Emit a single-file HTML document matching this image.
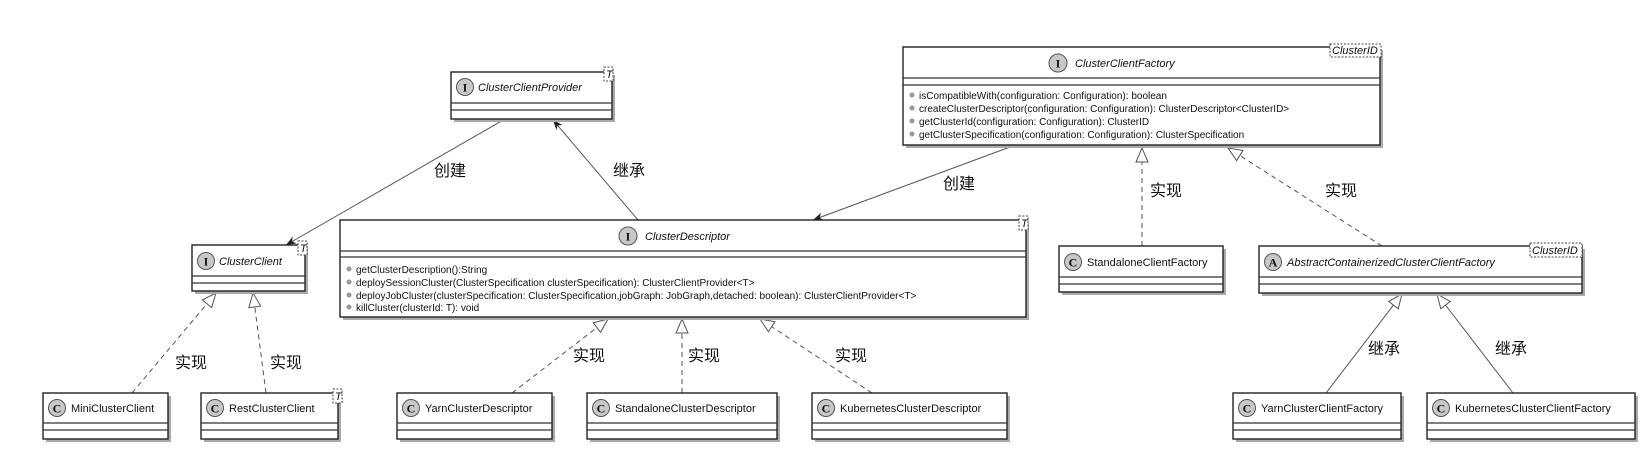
<!DOCTYPE html>
<html><head><meta charset="utf-8"><style>
html,body{margin:0;padding:0;background:#fff;}
svg{display:block;}
text{font-family:"Liberation Sans","Noto Sans CJK SC",sans-serif;}
.n{font-size:11px;fill:#111;}
.i{font-style:italic;}
.m{font-size:10px;fill:#111;}
.cn{font-size:16px;fill:#111;}
.box{fill:#fff;stroke:#222;stroke-width:1.4;}
.sh{fill:#aaa;}
.sep{stroke:#333;stroke-width:1.2;}
.ln{stroke:#555;stroke-width:1;fill:none;}
.dash{stroke-dasharray:5,4;}
.ic{fill:#c8c8c8;stroke:#555;stroke-width:1;}
.il{font-size:12px;font-weight:bold;fill:#111;font-family:"Liberation Serif",serif;}
.tag{fill:#fff;stroke:#444;stroke-width:1;stroke-dasharray:2,1.5;}
.dot{fill:#999;}
</style></head><body>
<svg width="1651" height="468" viewBox="0 0 1651 468" xmlns="http://www.w3.org/2000/svg">
<defs>
<marker id="tri" markerUnits="userSpaceOnUse" markerWidth="18" markerHeight="16" refX="15" refY="7" orient="auto">
<path d="M1,1 L15,7 L1,13 z" fill="#fff" stroke="#555" stroke-width="1"/></marker>
<marker id="arr" markerUnits="userSpaceOnUse" markerWidth="12" markerHeight="10" refX="10" refY="4" orient="auto">
<path d="M0,0 L10,4 L0,8 L3,4 z" fill="#222"/></marker>
</defs>

<!-- connectors -->
<line class="ln" x1="505" y1="119" x2="286" y2="245" marker-end="url(#arr)"/>
<line class="ln" x1="638" y1="220" x2="553" y2="120" marker-end="url(#arr)"/>
<line class="ln" x1="1010" y1="147" x2="813" y2="220" marker-end="url(#arr)"/>
<line class="ln dash" x1="1142" y1="246" x2="1142" y2="148" marker-end="url(#tri)"/>
<line class="ln dash" x1="1382" y1="246" x2="1228" y2="148" marker-end="url(#tri)"/>
<line class="ln" x1="1326" y1="393" x2="1402" y2="294" marker-end="url(#tri)"/>
<line class="ln" x1="1513" y1="393" x2="1437" y2="294" marker-end="url(#tri)"/>
<line class="ln dash" x1="132" y1="393" x2="216" y2="293" marker-end="url(#tri)"/>
<line class="ln dash" x1="266" y1="393" x2="253" y2="293" marker-end="url(#tri)"/>
<line class="ln dash" x1="512" y1="393" x2="608" y2="319" marker-end="url(#tri)"/>
<line class="ln dash" x1="682" y1="393" x2="682" y2="319" marker-end="url(#tri)"/>
<line class="ln dash" x1="872" y1="393" x2="760" y2="319" marker-end="url(#tri)"/>

<!-- labels -->
<text class="cn" x="434" y="176">创建</text>
<text class="cn" x="613" y="176">继承</text>
<text class="cn" x="943" y="189">创建</text>
<text class="cn" x="1150" y="196">实现</text>
<text class="cn" x="1325" y="196">实现</text>
<text class="cn" x="1368" y="354">继承</text>
<text class="cn" x="1495" y="354">继承</text>
<text class="cn" x="175" y="368">实现</text>
<text class="cn" x="270" y="368">实现</text>
<text class="cn" x="573" y="361">实现</text>
<text class="cn" x="688" y="361">实现</text>
<text class="cn" x="835" y="361">实现</text>

<!-- ClusterClientProvider -->
<rect class="sh" x="454" y="75" width="161" height="47"/>
<rect class="box" x="451" y="72" width="161" height="47"/>
<line class="sep" x1="451" y1="103" x2="612" y2="103"/>
<line class="sep" x1="451" y1="110" x2="612" y2="110"/>
<circle class="ic" cx="465" cy="87" r="8.5"/><text class="il" x="465" y="91.5" text-anchor="middle">I</text>
<text class="n i" x="478" y="91">ClusterClientProvider</text>
<rect class="tag" x="604" y="67" width="9" height="14"/><text class="n i" x="606" y="78" font-size="10">T</text>

<!-- ClusterClientFactory -->
<rect class="sh" x="906" y="50" width="477" height="98"/>
<rect class="box" x="903" y="47" width="477" height="98"/>
<line class="sep" x1="903" y1="78" x2="1380" y2="78"/>
<line class="sep" x1="903" y1="85" x2="1380" y2="85"/>
<circle class="ic" cx="1058" cy="63" r="9"/><text class="il" x="1058" y="67.5" text-anchor="middle">I</text>
<text class="n i" x="1075" y="67">ClusterClientFactory</text>
<rect class="tag" x="1330" y="44" width="51" height="13"/><text class="n i" x="1332" y="54" font-size="10">ClusterID</text>
<circle class="dot" cx="912" cy="95" r="2.5"/><text class="m" x="919" y="99">isCompatibleWith(configuration: Configuration): boolean</text>
<circle class="dot" cx="912" cy="108" r="2.5"/><text class="m" x="919" y="112">createClusterDescriptor(configuration: Configuration): ClusterDescriptor&lt;ClusterID&gt;</text>
<circle class="dot" cx="912" cy="121" r="2.5"/><text class="m" x="919" y="125">getClusterId(configuration: Configuration): ClusterID</text>
<circle class="dot" cx="912" cy="134" r="2.5"/><text class="m" x="919" y="138">getClusterSpecification(configuration: Configuration): ClusterSpecification</text>

<!-- ClusterClient -->
<rect class="sh" x="195" y="248" width="113" height="46"/>
<rect class="box" x="192" y="245" width="113" height="46"/>
<line class="sep" x1="192" y1="276" x2="305" y2="276"/>
<line class="sep" x1="192" y1="283" x2="305" y2="283"/>
<circle class="ic" cx="206" cy="261" r="8.5"/><text class="il" x="206" y="265.5" text-anchor="middle">I</text>
<text class="n i" x="219" y="265">ClusterClient</text>
<rect class="tag" x="298" y="241" width="9" height="14"/><text class="n i" x="300" y="252" font-size="10">T</text>

<!-- ClusterDescriptor -->
<rect class="sh" x="343" y="223" width="686" height="97"/>
<rect class="box" x="340" y="220" width="686" height="97"/>
<line class="sep" x1="340" y1="251" x2="1026" y2="251"/>
<line class="sep" x1="340" y1="257" x2="1026" y2="257"/>
<circle class="ic" cx="628" cy="236" r="9"/><text class="il" x="628" y="240.5" text-anchor="middle">I</text>
<text class="n i" x="645" y="240">ClusterDescriptor</text>
<rect class="tag" x="1019" y="216" width="9" height="14"/><text class="n i" x="1021" y="227" font-size="10">T</text>
<circle class="dot" cx="349" cy="269" r="2.5"/><text class="m" x="356" y="273">getClusterDescription():String</text>
<circle class="dot" cx="349" cy="282" r="2.5"/><text class="m" x="356" y="286">deploySessionCluster(ClusterSpecification clusterSpecification): ClusterClientProvider&lt;T&gt;</text>
<circle class="dot" cx="349" cy="295" r="2.5"/><text class="m" x="356" y="299">deployJobCluster(clusterSpecification: ClusterSpecification,jobGraph: JobGraph,detached: boolean): ClusterClientProvider&lt;T&gt;</text>
<circle class="dot" cx="349" cy="307" r="2.5"/><text class="m" x="356" y="311">killCluster(clusterId: T): void</text>

<!-- StandaloneClientFactory -->
<rect class="sh" x="1062" y="249" width="164" height="46"/>
<rect class="box" x="1059" y="246" width="164" height="46"/>
<line class="sep" x1="1059" y1="277" x2="1223" y2="277"/>
<line class="sep" x1="1059" y1="284" x2="1223" y2="284"/>
<circle class="ic" cx="1073" cy="262" r="8.5"/><text class="il" x="1073" y="266.5" text-anchor="middle">C</text>
<text class="n" x="1087" y="266">StandaloneClientFactory</text>

<!-- Abstract -->
<rect class="sh" x="1262" y="249" width="323" height="47"/>
<rect class="box" x="1259" y="246" width="323" height="47"/>
<line class="sep" x1="1259" y1="277" x2="1582" y2="277"/>
<line class="sep" x1="1259" y1="284" x2="1582" y2="284"/>
<circle class="ic" cx="1273" cy="262" r="8.5"/><text class="il" x="1273" y="266.5" text-anchor="middle">A</text>
<text class="n i" x="1287" y="266">AbstractContainerizedClusterClientFactory</text>
<rect class="tag" x="1530" y="243" width="52" height="14"/><text class="n i" x="1532" y="254" font-size="10">ClusterID</text>

<!-- bottom row -->
<g>
<rect class="sh" x="46" y="396" width="125" height="46"/><rect class="box" x="43" y="393" width="125" height="46"/>
<line class="sep" x1="43" y1="423" x2="168" y2="423"/><line class="sep" x1="43" y1="430" x2="168" y2="430"/>
<circle class="ic" cx="57" cy="408" r="8.5"/><text class="il" x="57" y="412.5" text-anchor="middle">C</text>
<text class="n" x="71" y="412">MiniClusterClient</text>

<rect class="sh" x="204" y="396" width="137" height="46"/><rect class="box" x="201" y="393" width="137" height="46"/>
<line class="sep" x1="201" y1="423" x2="338" y2="423"/><line class="sep" x1="201" y1="430" x2="338" y2="430"/>
<circle class="ic" cx="215" cy="408" r="8.5"/><text class="il" x="215" y="412.5" text-anchor="middle">C</text>
<text class="n" x="229" y="412">RestClusterClient</text>
<rect class="tag" x="333" y="389" width="9" height="14"/><text class="n i" x="335" y="400" font-size="10">T</text>

<rect class="sh" x="400" y="396" width="155" height="46"/><rect class="box" x="397" y="393" width="155" height="46"/>
<line class="sep" x1="397" y1="423" x2="552" y2="423"/><line class="sep" x1="397" y1="430" x2="552" y2="430"/>
<circle class="ic" cx="411" cy="408" r="8.5"/><text class="il" x="411" y="412.5" text-anchor="middle">C</text>
<text class="n" x="425" y="412">YarnClusterDescriptor</text>

<rect class="sh" x="590" y="396" width="190" height="46"/><rect class="box" x="587" y="393" width="190" height="46"/>
<line class="sep" x1="587" y1="423" x2="777" y2="423"/><line class="sep" x1="587" y1="430" x2="777" y2="430"/>
<circle class="ic" cx="601" cy="408" r="8.5"/><text class="il" x="601" y="412.5" text-anchor="middle">C</text>
<text class="n" x="615" y="412">StandaloneClusterDescriptor</text>

<rect class="sh" x="815" y="396" width="195" height="46"/><rect class="box" x="812" y="393" width="195" height="46"/>
<line class="sep" x1="812" y1="423" x2="1007" y2="423"/><line class="sep" x1="812" y1="430" x2="1007" y2="430"/>
<circle class="ic" cx="826" cy="408" r="8.5"/><text class="il" x="826" y="412.5" text-anchor="middle">C</text>
<text class="n" x="840" y="412">KubernetesClusterDescriptor</text>

<rect class="sh" x="1236" y="396" width="168" height="46"/><rect class="box" x="1233" y="393" width="168" height="46"/>
<line class="sep" x1="1233" y1="423" x2="1401" y2="423"/><line class="sep" x1="1233" y1="430" x2="1401" y2="430"/>
<circle class="ic" cx="1247" cy="408" r="8.5"/><text class="il" x="1247" y="412.5" text-anchor="middle">C</text>
<text class="n" x="1261" y="412">YarnClusterClientFactory</text>

<rect class="sh" x="1430" y="396" width="208" height="46"/><rect class="box" x="1427" y="393" width="208" height="46"/>
<line class="sep" x1="1427" y1="423" x2="1635" y2="423"/><line class="sep" x1="1427" y1="430" x2="1635" y2="430"/>
<circle class="ic" cx="1441" cy="408" r="8.5"/><text class="il" x="1441" y="412.5" text-anchor="middle">C</text>
<text class="n" x="1455" y="412">KubernetesClusterClientFactory</text>
</g>
</svg>
</body></html>
